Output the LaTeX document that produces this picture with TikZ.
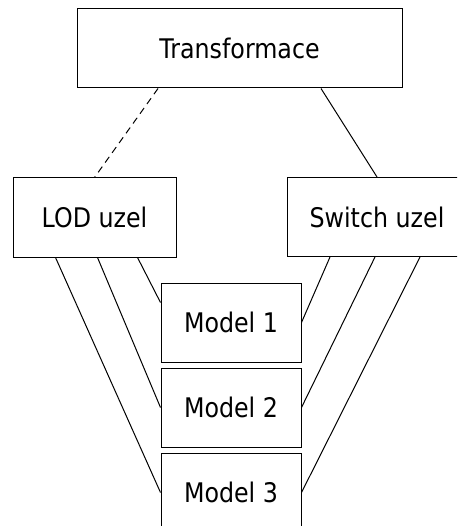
\documentclass[tikz,border=0pt]{standalone}
\usepackage{fontspec}
\setmainfont{DejaVu Sans}[FakeStretch=0.88]
\usetikzlibrary{calc}

\begin{document}
\begin{tikzpicture}[x=1pt, y=-1pt, line width=1pt,
		box/.style={draw, rectangle, inner sep=0pt, minimum height=79pt, font=\fontsize{27}{32}\selectfont}]
			\clip (0,0) rectangle (457,526);
			% hierarchie uzlu
			\node[box, minimum width=325pt] (trans) at (239.5, 48.5) {Transformace}; % koren
			\node[box, minimum width=163pt] (lod) at (94.5, 217.5) {LOD uzel};
			\node[box, minimum width=180pt] (sw) at (377.0, 217.0) {Switch uzel};
			
			% MODELY
			\node[box, minimum width=140pt] (m1) at (231.0, 322.5) {Model 1};
			\node[box, minimum width=140pt] (m2) at (231.0, 407.5) {Model 2};
			\node[box, minimum width=140pt] (m3) at (231.0, 492.5) {Model 3};
			
			% DRAW EDGES
			\path[draw, dash pattern=on 7pt off 5pt] ([xshift=-81.5pt]trans.south)--(lod.north);
			\path[draw] ([xshift=81.5pt]trans.south)--(sw.north);
			\path[draw] ([xshift=43pt]lod.south)--([yshift=20pt]m1.west); \path[draw] ([xshift=3pt]lod.south)--(m2.west);
			\path[draw] ([xshift=-39pt]lod.south)--(m3.west);
			\path[draw] ([xshift=-47pt]sw.south)--(m1.east); \path[draw] ([xshift=-2pt]sw.south)--(m2.east);
			\path[draw] ([xshift=43pt]sw.south)--(m3.east);
		\end{tikzpicture}
\end{document}
